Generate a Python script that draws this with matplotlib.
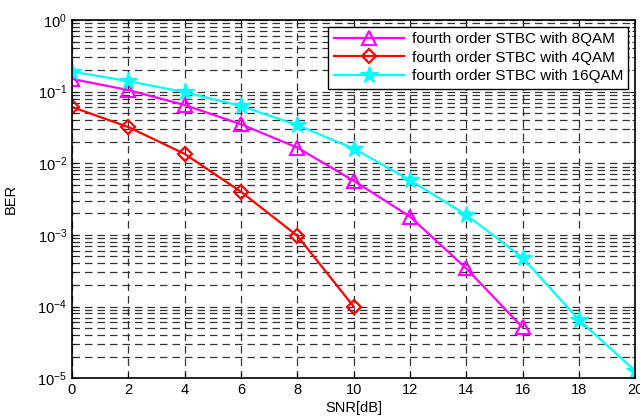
import matplotlib
matplotlib.use("Agg")
import matplotlib.pyplot as plt
import numpy as np
from matplotlib.ticker import LogLocator, NullFormatter

plt.rcParams["font.family"] = ["Liberation Sans", "DejaVu Sans"]

snr = [0, 2, 4, 6, 8, 10, 12, 14, 16, 18, 20]
ber_8qam = [0.15, 0.105, 0.065, 0.035, 0.0165, 0.0057, 0.0018, 3.4e-4, 5.1e-5]
ber_4qam = [0.061, 0.032, 0.0135, 0.0040, 0.00097, 1.0e-4]
ber_16qam = [0.19, 0.14, 0.098, 0.063, 0.034, 0.016, 0.0058, 0.0019, 4.8e-4, 6.5e-5, 1.26e-5]
labels = ["fourth order STBC with 8QAM", "fourth order STBC with 4QAM",
          "fourth order STBC with 16QAM"]

fig = plt.figure(figsize=(6.4, 4.16), dpi=100)
ax = fig.add_axes([0.1125, 0.091, 0.88, 0.861])

ax.semilogy(snr[:len(ber_8qam)], ber_8qam, "-^", color="magenta", lw=1.6,
            ms=10, mfc="none", mew=1.6, label=labels[0])
ax.semilogy(snr[:len(ber_4qam)], ber_4qam, "-D", color="red", lw=1.6,
            ms=7, mfc="none", mew=1.6, label=labels[1])
ax.semilogy(snr, ber_16qam, "-*", color="cyan", lw=1.6,
            ms=13, label=labels[2])

ax.set_xlim(0, 20)
ax.set_ylim(1e-5, 1)
ax.set_xticks(snr)
ax.yaxis.set_major_locator(LogLocator(base=10, numticks=10))
ax.yaxis.set_minor_locator(LogLocator(base=10, subs=np.arange(2, 10), numticks=10))
ax.yaxis.set_minor_formatter(NullFormatter())
ax.grid(True, which="major", ls=(0, (6, 4)), color="#333333", lw=0.9)
ax.grid(True, which="minor", axis="y", ls=(0, (6, 4)), color="#333333", lw=0.9)
ax.tick_params(which="both", direction="in", labelsize=10.5, top=True, right=True)
for s in ax.spines.values():
    s.set_linewidth(1.2)

ax.set_xlabel("SNR[dB]", fontsize=10.5, labelpad=3)
ax.set_ylabel("BER", fontsize=10.5, labelpad=14)

leg = ax.legend(loc="upper right", fontsize=11, fancybox=False, framealpha=1,
                edgecolor="black", borderaxespad=0.45, handlelength=4.6,
                handletextpad=0.5, borderpad=0.35, labelspacing=0.3)
leg.get_frame().set_linewidth(1.0)

fig.savefig("out.png", dpi=100)
